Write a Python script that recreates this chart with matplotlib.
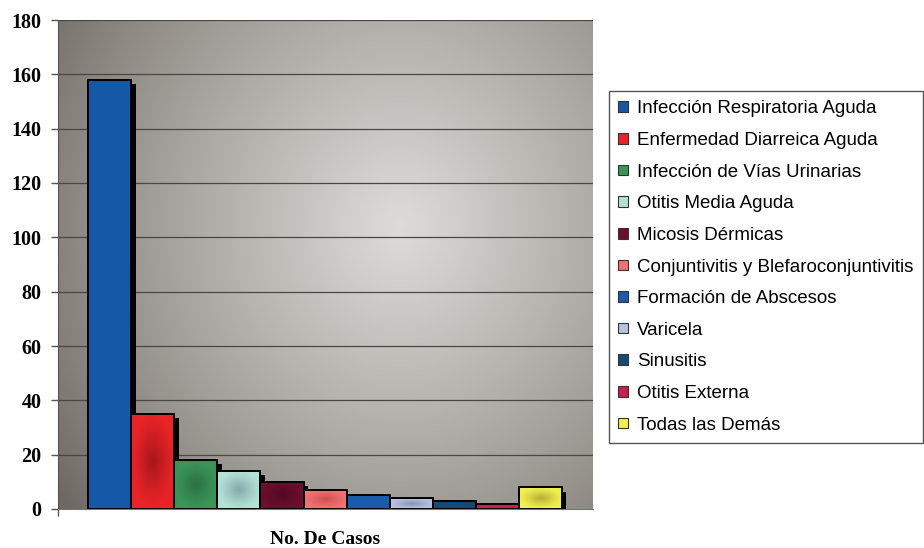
import numpy as np
import matplotlib
matplotlib.use("Agg")
import matplotlib.pyplot as plt
from matplotlib.patches import Rectangle
from matplotlib.colors import to_rgb

categories = [
    "Infección Respiratoria Aguda",
    "Enfermedad Diarreica Aguda",
    "Infección de Vías Urinarias",
    "Otitis Media Aguda",
    "Micosis Dérmicas",
    "Conjuntivitis y Blefaroconjuntivitis",
    "Formación de Abscesos",
    "Varicela",
    "Sinusitis",
    "Otitis Externa",
    "Todas las Demás",
]
casos = [158, 35, 18, 14, 10, 7, 5, 4, 3, 2, 8]
colors = ["#1658a8", "#e82428", "#3a9458", "#b2e2d6", "#6c0e2e", "#f07272",
          "#1a5cac", "#b6c2de", "#154a78", "#cc1e50", "#f2f050"]
# darker tone pooled in the middle of each bar's face
glow = ["#1658a8", "#9a1418", "#2a6a40", "#7f9aa0", "#4a0820", "#c84848",
        "#1a5cac", "#7f8aa8", "#154a78", "#cc1e50", "#a8a030"]
yticks = [0, 20, 40, 60, 80, 100, 120, 140, 160, 180]
xlabel = "No. De Casos"

fig = plt.figure(figsize=(9.24, 5.48), dpi=100)
ax = fig.add_axes([58 / 924, 1 - 509 / 548, (593 - 58) / 924, (509 - 20) / 548])

x = np.arange(len(casos))
xlim = (-1.2, len(casos) - 1 + 1.22)
ax.set_xlim(*xlim)
ax.set_ylim(0, 180)

# shaded backdrop: lighter middle fading to dark edges
ny, nx = 200, 300
yy, xx = np.mgrid[0:1:ny * 1j, 0:1:nx * 1j]
r = np.sqrt(((xx - 0.64) / 0.78) ** 2 + ((yy - 0.58) / 0.95) ** 2)
shade = np.clip(1 - r, 0, 1) ** 0.85
dark = np.array([0.43, 0.41, 0.38])
light = np.array([0.87, 0.86, 0.85])
img = dark + (light - dark) * shade[..., None]
ax.imshow(img, extent=[*xlim, 0, 180], aspect="auto", origin="lower", zorder=0)

for v in yticks[1:]:
    ax.axhline(v, color="#4a4642", lw=0.9, zorder=1)

# drop shadows behind the bars
for xi, v in zip(x, casos):
    ax.add_patch(Rectangle((xi - 0.5 + 0.1, 0), 1.0, max(v - 1.6, 0),
                           facecolor="black", edgecolor="none", zorder=2))
bars = ax.bar(x, casos, width=1.0, color=colors, edgecolor="black", linewidth=1.2,
              zorder=3)

# radial darkening in the centre of each bar face
gy, gx = np.mgrid[-1:1:60j, -1:1:60j]
falloff = np.clip(1 - np.sqrt(gx ** 2 + gy ** 2), 0, 1) ** 1.2
for b, g in zip(bars, glow):
    rgba = np.zeros((60, 60, 4))
    rgba[..., :3] = to_rgb(g)
    rgba[..., 3] = 0.85 * falloff
    im = ax.imshow(rgba, extent=[b.get_x(), b.get_x() + b.get_width(), 0, b.get_height()],
                   aspect="auto", origin="lower", zorder=3.5, interpolation="bilinear")
    im.set_clip_path(b)
for b in bars:
    ax.add_patch(Rectangle((b.get_x(), 0), b.get_width(), b.get_height(),
                           facecolor="none", edgecolor="black", linewidth=1.2, zorder=4))
ax.set_xlim(*xlim)
ax.set_ylim(0, 180)

ax.set_yticks(yticks)
ax.set_yticklabels([str(t) for t in yticks], fontfamily="Liberation Serif",
                   fontweight="bold", fontsize=14.5)
ax.set_xticks([xlim[0]])
ax.set_xticklabels([""])
ax.tick_params(axis="y", length=5, width=1, color="#555555", pad=7)
ax.tick_params(axis="x", length=5, width=1, color="#555555")
for s in ["top", "right"]:
    ax.spines[s].set_visible(False)
ax.spines["left"].set_color("#555555")
ax.spines["bottom"].set_color("#777777")
fig.text(325 / 924, 1 - 539 / 548, xlabel, ha="center", va="center",
         fontfamily="Liberation Serif", fontweight="bold", fontsize=14)

handles = [Rectangle((0, 0), 1, 1, facecolor=c, edgecolor="#333333", linewidth=0.8)
           for c in colors]
leg = fig.legend(handles, categories, loc="upper left",
                 bbox_to_anchor=(609 / 924, 1 - 91 / 548),
                 prop={"family": "Liberation Sans", "size": 13.5},
                 handlelength=0.5, handleheight=0.5, handletextpad=0.48,
                 labelspacing=0.78, borderpad=0.5, borderaxespad=0,
                 fancybox=False, frameon=True, edgecolor="#555555", framealpha=1)
leg.get_frame().set_linewidth(1.0)

fig.savefig("out.png", dpi=100)
